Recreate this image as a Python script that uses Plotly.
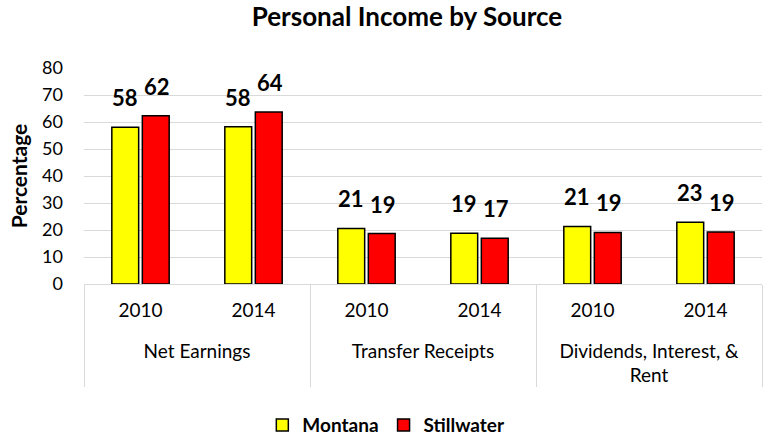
import plotly.graph_objects as go

sources = ["<br>Net Earnings", "<br>Net Earnings",
           "<br>Transfer Receipts", "<br>Transfer Receipts",
           "<br>Dividends, Interest, &<br>Rent", "<br>Dividends, Interest, &<br>Rent"]
years = ["2010", "2014", "2010", "2014", "2010", "2014"]
montana = [58.1, 58.2, 20.6, 18.8, 21.3, 22.9]
stillwater = [62.3, 63.7, 18.7, 16.9, 19.1, 19.3]

FONT = "Lato"
x = [sources, years]

fig = go.Figure()
fig.add_trace(go.Bar(
    x=x, y=montana, name="<b>Montana</b>",
    marker=dict(color="#FFFF00", line=dict(color="#000000", width=1.5)),
))
fig.add_trace(go.Bar(
    x=x, y=stillwater, name="<b>Stillwater</b>",
    marker=dict(color="#FF0000", line=dict(color="#000000", width=1.5)),
))

# value labels, raised a little above the bars like the original
for i, (m, s) in enumerate(zip(montana, stillwater)):
    for val, shift in ((m, -16), (s, 16)):
        fig.add_annotation(
            x=i, y=val, xref="x", yref="y",
            text=f"<b>{round(val)}</b>", showarrow=False,
            xshift=shift, yshift=14, yanchor="bottom",
            font=dict(family=FONT, size=22, color="#000000"),
        )

fig.update_layout(
    width=765, height=437,
    paper_bgcolor="white", plot_bgcolor="white",
    margin=dict(l=84, r=3, t=68, b=153, autoexpand=False),
    title=dict(text="<b>Personal Income by Source</b>",
               xref="container", x=0.532, xanchor="center",
               yref="container", y=0.961, yanchor="middle",
               font=dict(family=FONT, size=26, color="#000000")),
    barmode="group", bargap=0.46, bargroupgap=0.12,
    legend=dict(orientation="h", xref="container", x=0.505, xanchor="center",
                yref="container", y=0.027, yanchor="middle",
                font=dict(family=FONT, size=19, color="#000000"),
                itemclick=False),
    font=dict(family=FONT, color="#000000"),
    showlegend=True,
)

fig.update_yaxes(
    range=[0, 80], dtick=10, showgrid=True, gridcolor="#d9d9d9", gridwidth=1,
    zeroline=False, showline=False, ticks="", automargin=False,
    ticklabelstandoff=20,
    tickfont=dict(family=FONT, size=18, color="#000000"),
    title=dict(text="<b>Percentage</b>", font=dict(family=FONT, size=21, color="#000000"),
               standoff=8),
)
fig.update_xaxes(
    type="multicategory", showline=True, linecolor="#d9d9d9", linewidth=1,
    showdividers=True, dividercolor="#d9d9d9", dividerwidth=1, automargin=False,
    ticks="", ticklabelstandoff=9,
    tickfont=dict(family=FONT, size=19, color="#000000"),
)

fig.write_html("out.html", config={"displayModeBar": False},
               post_script="document.body.style.margin='0';")
